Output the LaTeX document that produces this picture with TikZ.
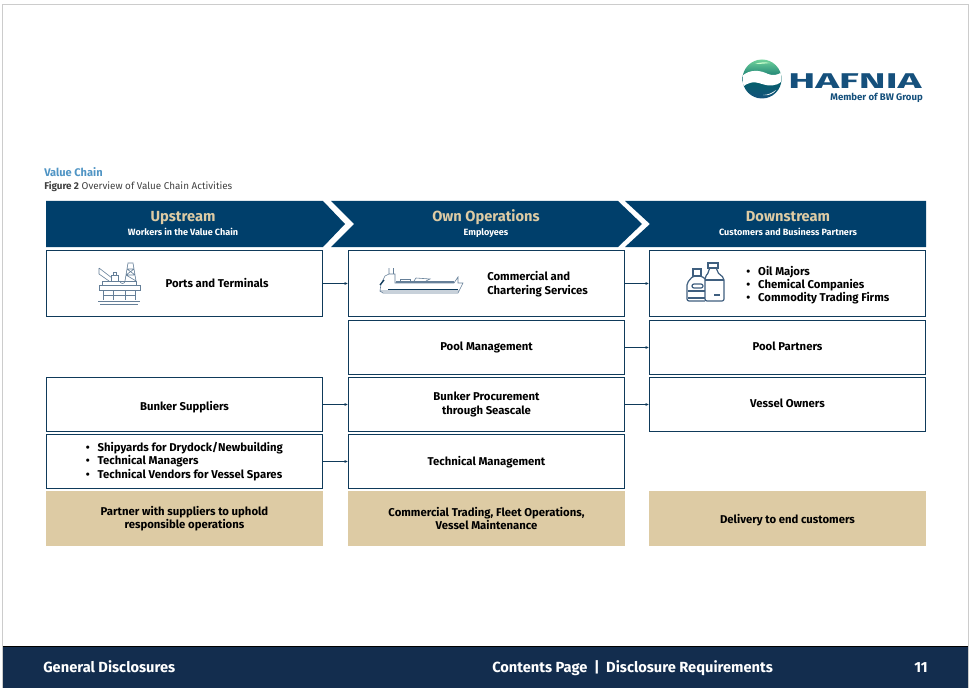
\documentclass[tikz,border=0pt]{standalone}
\usepackage{fontspec}
\usepackage{graphicx}
\usetikzlibrary{arrows.meta}
\setmainfont{Fira Sans}
\definecolor{navy}{HTML}{003F6B}
\definecolor{boxline}{HTML}{0F3A5A}
\definecolor{footnavy}{HTML}{132D4E}
\definecolor{sand}{HTML}{DDCBA4}
\definecolor{sky}{HTML}{4F94C4}
\definecolor{iconblue}{HTML}{3F5F7F}
\definecolor{logoblue}{HTML}{15507C}
\newcommand{\nudge}[2]{\raisebox{#1}[\height][\depth]{#2}}
\begin{document}
\begin{tikzpicture}[
    x=0.75pt, y=-0.75pt,
    banner/.style={fill=navy},
    bannertitle/.style={anchor=base, inner sep=0pt, text=sand, font=\bfseries\fontsize{11}{12}\selectfont},
    bannersub/.style={anchor=base, inner sep=0pt, text=white, font=\fontsize{6.8}{8}\selectfont\bfseries},
    rowbox/.style={draw=boxline, line width=0.7pt, fill=white, minimum width=207pt, inner sep=0pt, align=center, font=\fontsize{8.5}{10.2}\selectfont\bfseries},
    tanbox/.style={fill=sand, minimum width=207.75pt, minimum height=41.25pt, inner sep=0pt, align=center, font=\fontsize{8.5}{10.2}\selectfont\bfseries},
    label/.style={align=left, inner sep=0pt, font=\fontsize{8.5}{10}\selectfont\bfseries},
    flow/.style={-{Latex[length=2.5pt,width=2.2pt]}, boxline, line width=0.6pt},
    icon/.style={iconblue!80, line width=0.45pt},
    bottle/.style={iconblue, line width=0.9pt},
    foot/.style={text=white, inner sep=0pt, font=\fontsize{11}{12}\selectfont\bfseries}
    ]
    \useasboundingbox (0,0) rectangle (971,688);
    \draw[gray!40, line width=0.6pt] (2,4) rectangle (968,688);

    % Logo
    \begin{scope}
        \clip (762,79) circle (19.5);
        \shade[top color=green!40!teal!55!white, bottom color=teal!80!black] (742,59) rectangle (782,82);
        \shade[top color=teal!80!black, bottom color=logoblue] (742,76) rectangle (782,99);
        \fill[white] (742,76) .. controls (750,69) and (760,70) .. (768,74) .. controls (773,76) and (778,75) .. (782,72) -- (782,81) .. controls (776,87) and (768,86) .. (762,84) .. controls (754,81) and (747,82) .. (742,88) -- cycle;
        \fill[white!80!green] (755,64) .. controls (760,62) and (765,62) .. (770,63) .. controls (765,63.5) and (760,64) .. (755,64) -- cycle;
        \fill[white] (763,95) .. controls (768,95) and (772,93) .. (776,90) .. controls (773,94) and (768,96) .. (763,95) -- cycle;
    \end{scope}
    \node[anchor=base west, inner sep=0pt, text=logoblue] (hafnia) at (788,89) {\scalebox{1.9}[1]{\fontsize{16}{18}\selectfont\bfseries HAFNIA}};
    \node[anchor=base east, inner sep=0pt, text=logoblue, font=\fontsize{7.2}{8}\selectfont\bfseries] (member) at (923,101) {Member of BW Group};

    % Nadpis
    \node[anchor=base west, inner sep=0pt, text=sky, font=\fontsize{8.3}{9}\selectfont\bfseries] (title) at (44,176) {Value Chain};
    \node[anchor=base west, inner sep=0pt, text=black!75, font=\fontsize{7.4}{8}\selectfont] (caption) at (44,190) {\textbf{Figure 2} Overview of Value Chain Activities};

    % Pruhy
    \fill[banner] (46,201) -- (323,201) -- (345,224) -- (323,247) -- (46,247) -- cycle;
    \fill[banner] (331,201) -- (618,201) -- (642,224) -- (618,247) -- (331,247) -- (354,224) -- cycle;
    \fill[banner] (625,201) -- (926,201) -- (926,247) -- (625,247) -- (650,224) -- cycle;
    \node[bannertitle] (up) at (183,222) {Upstream};
    \node[bannersub] (upsub) at (183,235) {Workers in the Value Chain};
    \node[bannertitle] (own) at (486,222) {Own Operations};
    \node[bannersub] (ownsub) at (486,235) {Employees};
    \node[bannertitle] (down) at (788,222) {Downstream};
    \node[bannersub] (downsub) at (788,235) {Customers and Business Partners};

    % Sloupec 1
    \node[rowbox, minimum height=49.5pt] (ports) at (184.5,283.5) {};
    \node[rowbox, minimum height=40.5pt] (bunker) at (184.5,404.5) {\nudge{-2.2pt}{Bunker Suppliers}};
    \node[rowbox, minimum height=40.5pt] (yards) at (184.5,461.5) {};
    \node[tanbox] (partner) at (184.5,518.5) {Partner with suppliers to uphold\\responsible operations};
    \node[label] (portstext) at (217,283) {Ports and Terminals};
    \node[label, anchor=west] (yardstext) at (85.5,461.5) {\textbullet\hspace{6pt}Shipyards for Drydock/Newbuilding\\\textbullet\hspace{6pt}Technical Managers\\\textbullet\hspace{6pt}Technical Vendors for Vessel Spares};

    % Sloupec 2
    \node[rowbox, minimum height=49.5pt] (commercial) at (486.5,283.5) {};
    \node[rowbox, minimum height=40.5pt] (pool) at (486.5,347.5) {Pool Management};
    \node[rowbox, minimum height=40.5pt] (procure) at (486.5,404.5) {Bunker Procurement\\through Seascale};
    \node[rowbox, minimum height=40.5pt] (technical) at (486.5,461.5) {\nudge{-0.8pt}{Technical Management}};
    \node[tanbox] (trading) at (486.5,518.5) {Commercial Trading, Fleet Operations,\\Vessel Maintenance};
    \node[label, anchor=west] (commercialtext) at (487,284) {Commercial and\\Chartering Services};

    % Sloupec 3
    \node[rowbox, minimum height=49.5pt] (majors) at (787.5,283.5) {};
    \node[rowbox, minimum height=40.5pt] (partners) at (787.5,347.5) {\nudge{0.8pt}{Pool Partners}};
    \node[rowbox, minimum height=40.5pt] (owners) at (787.5,404.5) {\nudge{0.8pt}{Vessel Owners}};
    \node[tanbox] (delivery) at (787.5,518.5) {\nudge{-1.5pt}{Delivery to end customers}};
    \node[label, anchor=west] (majorstext) at (746,285) {\textbullet\hspace{6pt}Oil Majors\\\textbullet\hspace{6pt}Chemical Companies\\\textbullet\hspace{6pt}Commodity Trading Firms};

    % Spojnice
    \draw[flow] (ports) -- (commercial);
    \draw[flow] (commercial) -- (majors);
    \draw[flow] (pool) -- (partners);
    \draw[flow] (bunker) -- (procure);
    \draw[flow] (procure) -- (owners);
    \draw[flow] (yards) -- (technical);

    % Plosina
    \draw[icon] (99,285) rectangle (140,290);
    \draw[icon] (102,285) -- (102,281) -- (136,281) -- (136,285);
    \draw[icon] (103,290) -- (103,300) (113,290) -- (113,300) (125,290) -- (125,300) (135,290) -- (135,300);
    \draw[icon] (103,295) -- (135,295);
    \draw[icon] (98,301) -- (140,301) (100,304) -- (138,304);
    \draw[icon] (125,281) -- (128,263) -- (133,263) -- (136,281) (126,275) -- (135,275) (127,269) -- (134,269) (126,275) -- (134,269) (127,269) -- (135,275) (126,275) -- (136,281);
    \draw[icon] (99,268) -- (99,274) -- (109,281) (99,268) -- (112,278);
    \draw[icon] (111,281) -- (111,275) -- (118,275) -- (118,281) (113,275) -- (113,272) -- (116,272) -- (116,275);
    \draw[icon] (120,281) arc[start angle=180, end angle=0, radius=2.5];

    % Lod
    \draw[icon] (380,291) -- (381,284) -- (385,276) -- (389,274) -- (389,268) -- (389,274) -- (395,274) -- (395,283) -- (454,283) -- (458,277) -- (458,283) -- (463,283) -- (459,291) -- cycle;
    \draw[icon] (383,293) -- (458,293) -- (459,291);
    \draw[icon] (383,293) -- (380,291);
    \draw[icon] (393,268) -- (393,274);
    \draw[boxline, line width=0.6pt] (388,289) -- (458,289);
    \draw[boxline, line width=1pt] (380,285) -- (384,280);
    \draw[icon, line width=0.8pt] (396,282) -- (454,282);
    \draw[icon] (400,281) rectangle (410,279);
    \draw[icon] (414,281) -- (416,278) -- (430,279) -- (426,281);

    % Lahve
    \draw[bottle, rounded corners=1.5pt] (705,301) -- (705,277) -- (709,272) -- (709,268) -- (717,268) -- (717,272) -- (724,278) -- (724,301) -- cycle;
    \draw[bottle] (708,263) rectangle (718,268);
    \draw[bottle] (705,280) -- (724,280);
    \draw[bottle] (714,295) -- (720,295);
    \draw[bottle, rounded corners=1.5pt] (705,301) -- (687,301) -- (687,283) -- (693,276) -- (702,276) -- (705,279);
    \draw[bottle] (693,276) rectangle (701,269);
    \draw[bottle] (688,291) -- (705,291);
    \draw[bottle, rounded corners=1.5pt] (692,284) rectangle (703,288);
    \draw[bottle] (688,298) -- (705,298);

    % Zapati
    \fill[footnavy] (3,646) rectangle (968,688);
    \draw[black, line width=0.7pt] (3,646) -- (968,646);
    \node[foot, anchor=base west] (general) at (43,672) {General Disclosures};
    \node[foot, anchor=base west] (contents) at (492,672) {Contents Page\hspace{5pt}|\hspace{5pt}Disclosure Requirements};
    \node[foot, anchor=base east] (page) at (928,672) {11};
\end{tikzpicture}
\end{document}
